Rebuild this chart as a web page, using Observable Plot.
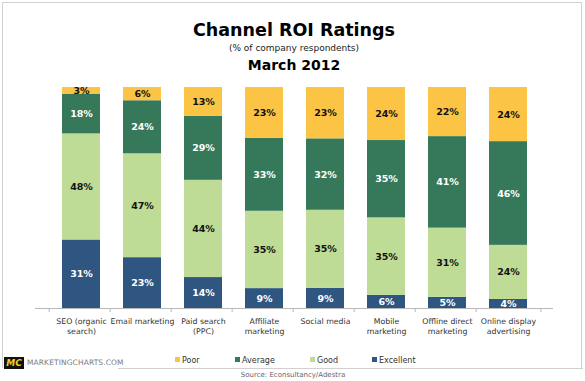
<!DOCTYPE html>
<html>
<head>
<meta charset="utf-8">
<script src="https://cdn.jsdelivr.net/npm/d3@7"></script>
<script src="https://cdn.jsdelivr.net/npm/@observablehq/plot@0.6"></script>
<style>
  html, body { margin: 0; padding: 0; background: #fff; }
  #wrap { position: relative; width: 585px; height: 381px; overflow: hidden; font-family: "DejaVu Sans", Verdana, sans-serif; }
  #wrap svg { position: absolute; left: 0; top: 0; }
  .t { position: absolute; left: 0; width: 588px; text-align: center; color: #000; white-space: nowrap; }
  #frame { position: absolute; left: 2px; top: 2px; width: 580px; height: 366px; border: 1px solid #d0d0d0; border-bottom: none; box-sizing: border-box; }
  #fbottom { position: absolute; left: 118px; top: 368px; width: 465px; height: 1px; background: #d0d0d0; }
  #logo { position: absolute; left: 4px; top: 357px; width: 20px; height: 12px; background: #111; color: #f2d21b; font: italic bold 9px "DejaVu Sans", sans-serif; line-height: 12px; text-align: center; }
  #site { position: absolute; left: 27px; top: 358px; font-size: 7.5px; color: #7a7a7a; line-height: 10px; letter-spacing: 0.1px; }
  .leg { position: absolute; top: 356px; font-size: 8px; color: #333; line-height: 10px; white-space: nowrap; }
  .leg i { display: inline-block; width: 5px; height: 5px; margin-right: 2px; vertical-align: 1px; }
  #source { position: absolute; top: 371px; left: 0; width: 586px; text-align: center; font-size: 7px; color: #666; }
</style>
</head>
<body>
<div id="wrap">
  <div id="frame"></div>
  <div id="fbottom"></div>
</div>
<script>
const categories = ["SEO (organic\nsearch)", "Email marketing", "Paid search\n(PPC)", "Affiliate\nmarketing", "Social media", "Mobile\nmarketing", "Offline direct\nmarketing", "Online display\nadvertising"];
const seriesNames = ["Excellent", "Good", "Average", "Poor"];
const excellent = [31, 23, 14, 9, 9, 6, 5, 4];
const good = [48, 47, 44, 35, 35, 35, 31, 24];
const average = [18, 24, 29, 33, 32, 35, 41, 46];
const poor = [3, 6, 13, 23, 23, 24, 22, 24];
const seriesColors = ["#2F5581", "#BEDC96", "#35795A", "#FCC444"];
const legendOrder = ["Poor", "Average", "Good", "Excellent"];
const whiteLabelSeries = ["Average", "Excellent"];
const titleText = "Channel ROI Ratings";
const subtitleText = "(% of company respondents)";
const dateText = "March 2012";
const sourceText = "Source: Econsultancy/Adestra";

const valuesBySeries = {Excellent: excellent, Good: good, Average: average, Poor: poor};
const data = [];
for (const s of seriesNames) {
  categories.forEach((c, i) => data.push({category: c, series: s, value: valuesBySeries[s][i]}));
}

const W = 585, H = 381, ML = 35, MR = 32, MT = 87, MB = 73;
const step = (W - ML - MR) / categories.length;
const stackOpts = {offset: "normalize", order: seriesNames};
const labelFont = {fontSize: 9.5, fontWeight: "bold", fontFamily: "DejaVu Sans, Verdana, sans-serif"};
const isWhite = d => whiteLabelSeries.includes(d.series);

const chart = Plot.plot({
  width: W, height: H,
  marginLeft: ML, marginRight: MR, marginTop: MT, marginBottom: MB,
  style: {fontFamily: "DejaVu Sans, Verdana, sans-serif", background: "transparent", overflow: "visible"},
  x: {domain: categories, padding: 0.385, label: null},
  y: {domain: [0, 1], axis: null},
  color: {domain: seriesNames, range: seriesColors},
  marks: [
    Plot.barY(data, Plot.stackY({...stackOpts, x: "category", y: "value", z: "series", fill: "series"})),
    Plot.ruleY([0], {stroke: "#b8b8b8", strokeWidth: 1}),
    Plot.ruleX(categories, {x: d => d, y1: 0, y2: 0, dx: -step / 2, stroke: "#b8b8b8", insetBottom: -4}),
    Plot.ruleX(categories.slice(-1), {x: d => d, y1: 0, y2: 0, dx: step / 2, stroke: "#b8b8b8", insetBottom: -4}),
    Plot.axisX({tickSize: 0, tickPadding: 9, fontSize: 7.8, fill: "#333", lineHeight: 1.25, label: null}),
    Plot.text(data, Plot.stackY({...stackOpts, x: "category", y: "value", z: "series",
      text: d => isWhite(d) ? d.value + "%" : "", fill: "#fff", ...labelFont})),
    Plot.text(data, Plot.stackY({...stackOpts, x: "category", y: "value", z: "series",
      text: d => isWhite(d) ? "" : d.value + "%", fill: "#111", ...labelFont}))
  ]
});

const wrap = document.getElementById("wrap");
wrap.appendChild(chart);

function addDiv(cls, text, style) {
  const el = document.createElement("div");
  if (cls) el.className = cls;
  if (text != null) el.textContent = text;
  Object.assign(el.style, style || {});
  wrap.appendChild(el);
  return el;
}
addDiv("t", titleText, {top: "19px", fontSize: "17.5px", fontWeight: "bold", lineHeight: "22px"});
addDiv("t", subtitleText, {top: "42px", fontSize: "9px", lineHeight: "12px", color: "#222"});
addDiv("t", dateText, {top: "56px", fontSize: "14px", fontWeight: "bold", lineHeight: "18px"});

const logo = addDiv(null, "MC"); logo.id = "logo";
const site = addDiv(null, "MARKETINGCHARTS.COM"); site.id = "site";

const legLeft = {Poor: 175, Average: 235, Good: 310, Excellent: 372};
for (const s of legendOrder) {
  const el = addDiv("leg", null, {left: legLeft[s] + "px"});
  const sw = document.createElement("i");
  sw.style.background = seriesColors[seriesNames.indexOf(s)];
  el.appendChild(sw);
  el.appendChild(document.createTextNode(s));
}
const src = addDiv(null, sourceText); src.id = "source";
</script>
</body>
</html>
